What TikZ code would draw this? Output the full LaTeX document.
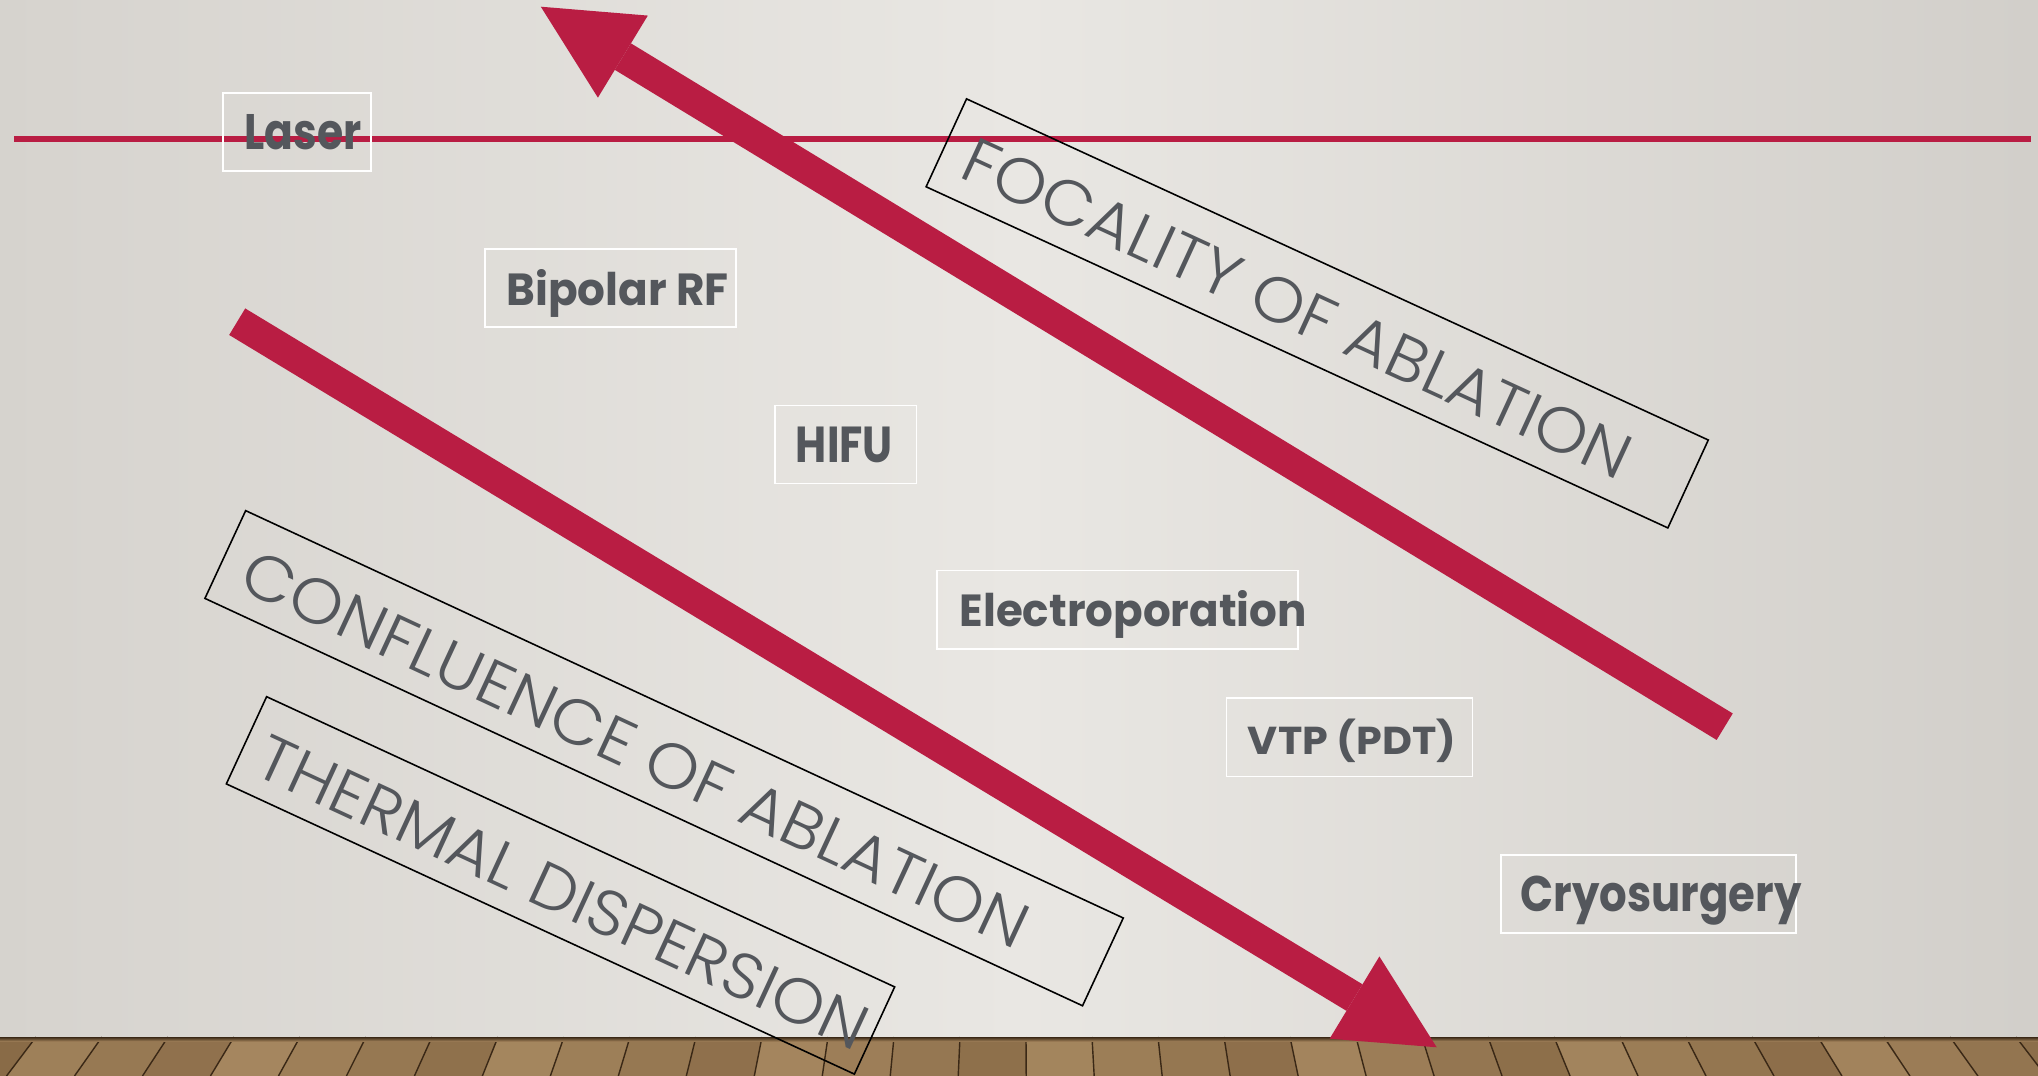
\documentclass[tikz,border=0pt]{standalone}
\usepackage{fontspec}
\usepackage{graphicx}
\usetikzlibrary{arrows.meta,calc}
\newfontfamily\gothic{Poppins}
\newfontfamily\gothiclight{Poppins Light}
\definecolor{crimson}{RGB}{185,29,67}
\definecolor{textgray}{RGB}{84,87,92}
\definecolor{wallin}{RGB}{233,231,227}
\definecolor{wallout}{RGB}{214,211,206}
\definecolor{woodlight}{RGB}{176,145,104}
\definecolor{wooddark}{RGB}{124,94,60}
\definecolor{woodline}{RGB}{58,40,22}
\tikzset{
    techbox/.style={draw=white, line width=0.45pt, inner sep=0pt, minimum height=0.78cm},
    techlabel/.style={anchor=base west, inner sep=0pt, text=textgray, font=\gothic\bfseries},
    trendbox/.style={draw=black, line width=0.45pt, inner sep=0pt, minimum height=0.967cm},
    trendlabel/.style={anchor=base west, inner sep=0pt, text=textgray, font=\gothiclight},
    bigarrow/.style={draw=crimson, line width=0.31cm, -{Triangle[length=0.96cm, width=0.96cm, line width=0pt]}}
}
\begin{document}
\begin{tikzpicture}[x=0.01cm, y=-0.01cm]
        \useasboundingbox (0,0) rectangle (2038,1076);
        % Wall and floor
        \shade[left color=wallout, right color=wallout!98!black, middle color=wallin] (0,0) rectangle (2038,1037);
        \fill[wooddark] (0,1037) rectangle (2038,1076);
        \foreach \i in {0,...,31} {
            \pgfmathsetmacro{\xa}{\i*66-30}
            \pgfmathsetmacro{\xb}{\xa+66}
            \pgfmathtruncatemacro{\tone}{mod(\i*41,55)+25}
            \fill[woodlight!\tone!wooddark] (\xa,1037) -- (\xb,1037) -- ({\xb+(\xb-1019)*0.03},1076) -- ({\xa+(\xa-1019)*0.03},1076) -- cycle;
            \draw[woodline, line width=0.4pt] (\xa,1037) -- ({\xa+(\xa-1019)*0.03},1076);
        }
        \shade[top color=woodline, bottom color=wooddark!50!woodlight] (0,1037) rectangle (2038,1041);

        % Top line
        \coordinate (lineL) at (14,138.7);
        \coordinate (lineR) at (2031,138.7);
        \draw[crimson, line width=0.06cm] (lineL) -- (lineR);

        % Arrows
        \coordinate (focalTail) at (1724.7,726.7);
        \coordinate (focalTip) at (540.8,6.7);
        \coordinate (confTail) at (237.2,321.7);
        \coordinate (confTip) at (1436.7,1047.3);
        \draw[bigarrow] (focalTail) -- (focalTip);
        \draw[bigarrow] (confTail) -- (confTip);

        % Techniques
        \node[techbox, minimum width=1.48cm] (laser) at (297,132) {};
        \node[techbox, minimum width=2.51cm] (bipolar) at (610.5,288) {};
        \node[techbox, minimum width=1.415cm] (hifu) at (845.8,444.6) {};
        \node[techbox, minimum width=3.607cm] (electro) at (1117.7,609.7) {};
        \node[techbox, minimum width=2.46cm] (vtp) at (1349.6,737.3) {};
        \node[techbox, minimum width=2.95cm] (cryo) at (1648.5,894) {};

        \node[techlabel] (laserT) at ($(laser.north west)+(21.5,57.5)$) {\resizebox{1.17cm}{0.35cm}{Laser}};
        \node[techlabel] (bipolarT) at ($(bipolar.north west)+(21.5,57.5)$) {\resizebox{2.22cm}{0.36cm}{Bipolar RF}};
        \node[techlabel] (hifuT) at ($(hifu.north west)+(21,57.5)$) {\resizebox{0.97cm}{0.355cm}{HIFU}};
        \node[techlabel] (electroT) at ($(electro.north west)+(22.5,57)$) {\resizebox{3.47cm}{0.36cm}{Electroporation}};
        \node[techlabel] (vtpT) at ($(vtp.north west)+(21.5,57)$) {\resizebox{2.08cm}{0.355cm}{VTP (PDT)}};
        \node[techlabel] (cryoT) at ($(cryo.north west)+(19.5,57.5)$) {\resizebox{2.81cm}{0.355cm}{Cryosurgery}};

        % Trends
        \node[trendbox, rotate=-24.7, minimum width=8.16cm] (focal) at (1317.2,313.4) {};
        \node[trendbox, rotate=-24.9, minimum width=9.67cm] (conf) at (664.1,758.2) {};
        \node[trendbox, rotate=-24.8, minimum width=6.915cm, minimum height=0.96cm] (thermal) at (560.5,885.4) {};

        \node[trendlabel, rotate=-24.7] (focalT) at ($(focal.south west)+(31.4,-10.9)$) {\resizebox{7.28cm}{0.45cm}{FOCALITY OF ABLATION}};
        \node[trendlabel, rotate=-24.9] (confT) at ($(conf.south west)+(31.5,-10.8)$) {\resizebox{8.59cm}{0.45cm}{CONFLUENCE OF ABLATION}};
        \node[trendlabel, rotate=-24.8] (thermalT) at ($(thermal.south west)+(26,-11.1)$) {\resizebox{6.64cm}{0.45cm}{THERMAL DISPERSION}};
    \end{tikzpicture}
\end{document}
